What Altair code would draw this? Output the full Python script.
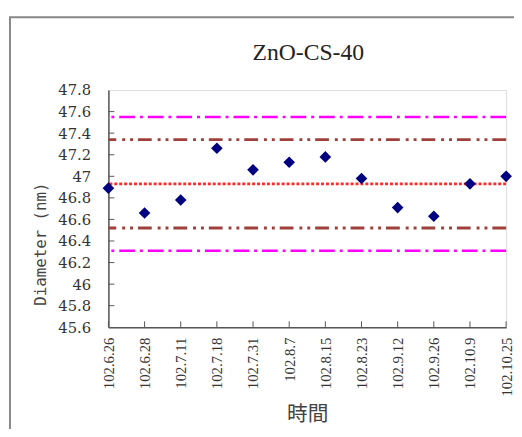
import altair as alt
import pandas as pd

dates = ["102.6.26", "102.6.28", "102.7.11", "102.7.18", "102.7.31", "102.8.7",
         "102.8.15", "102.8.23", "102.9.12", "102.9.26", "102.10.9", "102.10.25"]
diameter = [46.89, 46.66, 46.78, 47.26, 47.06, 47.13, 47.18, 46.98, 46.71, 46.63, 46.93, 47.00]

center_line = [46.93]
inner_limits = [47.34, 46.52]
outer_limits = [47.55, 46.31]
y_ticks = [45.6, 45.8, 46.0, 46.2, 46.4, 46.6, 46.8, 47.0, 47.2, 47.4, 47.6, 47.8]
title_text = ["ZnO-CS-40"]

W, H = 404, 241
SERIF = "Liberation Serif"

pts = pd.DataFrame({"date": dates, "d": diameter})

xscale = alt.Scale(type="point", padding=0, domain=dates)
yscale = alt.Scale(domain=[45.6, 47.8], nice=False, zero=False)

xaxis = alt.Axis(title="時間", labelAngle=-90)
yaxis = alt.Axis(title="Diameter (nm)", values=y_ticks, format=".1~f", titleY=156)

frame = alt.Chart(pd.DataFrame({"a": [0]})).mark_rect(
    fill=None, stroke="#888", strokeWidth=2, clip=False
).encode(x=alt.value(-100), x2=alt.value(430), y=alt.value(-74), y2=alt.value(400))

title = alt.Chart(pd.DataFrame({"t": title_text})).mark_text(
    font=SERIF, fontSize=24, color="#222", baseline="alphabetic", align="center"
).encode(text="t:N", x=alt.value(W / 2 + 1), y=alt.value(-31))

points = alt.Chart(pts).mark_point(
    shape="diamond", filled=True, color="#000080", size=140, opacity=1
).encode(
    x=alt.X("date:N", scale=xscale, axis=xaxis, sort=dates),
    y=alt.Y("d:Q", scale=yscale, axis=yaxis),
)

ytick_rules = alt.Chart(pd.DataFrame({"v": y_ticks[1:-1]})).mark_rule(
    color="#555", strokeWidth=1
).encode(y=alt.Y("v:Q", scale=yscale, axis=yaxis), x=alt.value(0), x2=alt.value(6))

xtick_rules = alt.Chart(pd.DataFrame({"date": dates})).mark_rule(
    color="#555", strokeWidth=1
).encode(x=alt.X("date:N", scale=xscale, sort=dates, axis=xaxis),
         y=alt.value(H), y2=alt.value(H - 6))

red = alt.Chart(pd.DataFrame({"v": center_line})).mark_rule(
    color="#FF2A2A", strokeWidth=3, strokeDash=[3, 2]
).encode(y=alt.Y("v:Q", scale=yscale, axis=yaxis))

brown = alt.Chart(pd.DataFrame({"v": inner_limits})).mark_rule(
    color="#A0403C", strokeWidth=3, strokeDash=[14, 5, 3, 5, 3, 6]
).encode(y=alt.Y("v:Q", scale=yscale, axis=yaxis))

magenta = alt.Chart(pd.DataFrame({"v": outer_limits})).mark_rule(
    color="#FF00FF", strokeWidth=2.5, strokeDash=[16, 5, 3, 5]
).encode(y=alt.Y("v:Q", scale=yscale, axis=yaxis))

chart = alt.layer(
    frame, title, magenta, brown, red, ytick_rules, xtick_rules, points
).properties(
    width=W, height=H,
    autosize=alt.AutoSizeParams(type="none"),
    padding={"left": 102, "top": 80, "right": 8, "bottom": 100},
).configure_view(
    stroke="#888", strokeWidth=1.5
).configure(
    background="white"
).configure_axis(
    ticks=False, grid=False, domainColor="#555", domainWidth=1.5,
    labelOverlap=False, labelBound=False, labelColor="#333", titleColor="#444",
    titleFontWeight="normal",
).configure_axisX(
    labelFont=SERIF, labelFontSize=15, labelPadding=10, titleFont="Noto Sans CJK TC",
    titleFontSize=21, titlePadding=8,
).configure_axisY(
    labelFont="DejaVu Serif", labelFontSize=15, labelPadding=18,
    titleFont="DejaVu Sans Mono", titleFontSize=16, titlePadding=10,
)

chart.save("out.html", embed_options={"renderer": "svg", "actions": False})
